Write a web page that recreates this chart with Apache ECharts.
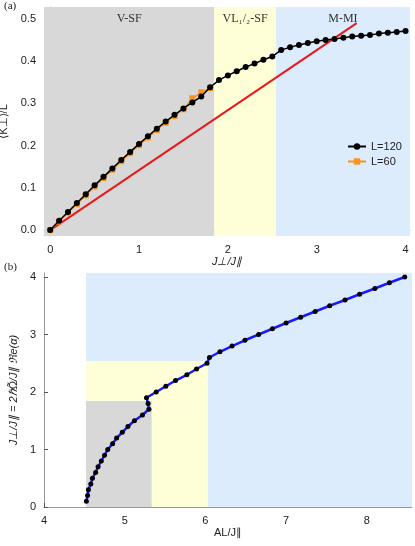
<!DOCTYPE html>
<html><head><meta charset="utf-8">
<script src="https://cdn.jsdelivr.net/npm/echarts@6/dist/echarts.min.js"></script>
<style>html,body{margin:0;padding:0;background:#fff}#c{width:415px;height:546px}</style>
</head><body><div id="c"></div>
<script>
const jx = [0,0.1,0.2,0.3,0.4,0.5,0.6,0.7,0.8,0.9,1.0,1.1,1.2,1.3,1.4,1.5,1.6,1.7,1.8,1.9,2.0,2.1,2.2,2.3,2.4,2.5,2.6,2.7,2.8,2.9,3.0,3.1,3.2,3.3,3.4,3.5,3.6,3.7,3.8,3.9,4.0];
const k120 = [0,.022,.043,.064,.085,.106,.126,.146,.166,.185,.204,.222,.240,.257,.273,.288,.302,.316,.338,.355,.366,.376,.386,.394,.403,.411,.426,.433,.438,.443,.447,.450,.452,.455,.458,.460,.462,.465,.467,.469,.471];
const k60 = [0,.020,.041,.061,.082,.103,.123,.143,.163,.182,.201,.219,.237,.254,.270,.286,.312,.326,.336];
const redLine = [[0,0],[3.45,0.49]];
const bY = [0.1,0.2,0.3,0.4,0.5,0.6,0.7,0.8,0.9,1.0,1.1,1.2,1.3,1.4,1.5,1.6,1.7,1.8,1.9,2.0,2.1,2.2,2.3,2.4,2.5,2.6,2.7,2.8,2.9,3.0,3.1,3.2,3.3,3.4,3.5,3.6,3.7,3.8,3.9,4.0];
const bX = [4.525,4.54,4.55,4.58,4.60,4.64,4.67,4.71,4.75,4.79,4.85,4.90,4.97,5.04,5.12,5.22,5.30,5.29,5.27,5.39,5.51,5.63,5.77,5.89,6.02,6.05,6.18,6.33,6.49,6.66,6.83,7.00,7.18,7.36,7.54,7.73,7.91,8.10,8.28,8.47];
const topXTicks = [0,1,2,3,4];
const topYTicks = [0,0.1,0.2,0.3,0.4,0.5];
const botXTicks = [4,5,6,7,8];
const botYTicks = [0,1,2,3,4];
const bounds = {sf:1.847, vl:2.54, bx0:4.52, bx1:5.336, bx2:6.03};

const GREY='rgba(216,216,216,1)', YEL='rgba(255,255,215,1)', BLUE='rgba(221,236,252,1)';
const axisLine={show:true,lineStyle:{color:'#999',width:1}};
const lbl={color:'#222',fontSize:11,fontFamily:'Liberation Sans'};
function vAxis(gi,min,max,ticks,fmt,extra){
  return Object.assign({type:'value',gridIndex:gi,min,max,splitLine:{show:false},axisLine,
    axisTick:{show:true,inside:true,length:4,lineStyle:{color:'#555'},customValues:ticks},
    axisLabel:Object.assign({customValues:ticks,formatter:fmt},lbl)},extra||{});
}
const chart=echarts.init(document.getElementById('c'));
chart.setOption({
  animation:false,
  grid:[{left:44,top:7,width:366,height:229,containLabel:false,outerBoundsMode:'none'},
        {left:44,top:273,width:368,height:234,containLabel:false,outerBoundsMode:'none'}],
  xAxis:[
    vAxis(0,-0.07,4.05,topXTicks,v=>String(v),{name:'J⊥/J∥',nameLocation:'middle',nameGap:20,nameTextStyle:{fontSize:11,fontStyle:'italic',color:'#222'}}),
    vAxis(1,4,8.56,botXTicks,v=>String(v),{name:'AL/J∥',nameLocation:'middle',nameGap:20,nameTextStyle:{fontSize:11,color:'#222'}})
  ],
  yAxis:[
    vAxis(0,-0.014,0.528,topYTicks,v=>v.toFixed(1),{name:'⟨K⊥⟩/L',nameLocation:'middle',nameGap:28,nameTextStyle:{fontSize:11,color:'#222'}}),
    vAxis(1,0,4.07,botYTicks,v=>String(v),{name:'J⊥/J∥ = 2ℏΩ̃/J∥ ℜe(α)',nameLocation:'middle',nameGap:22,nameTextStyle:{fontSize:11,fontStyle:'italic',color:'#222'}})
  ],
  legend:{left:342,top:136,orient:'vertical',itemWidth:18,itemHeight:8,itemGap:4,
    textStyle:{fontSize:11,color:'#222',fontFamily:'Liberation Sans'},data:['L=120','L=60']},
  graphic:[
    {type:'text',left:4,top:1,style:{text:'(a)',font:'11px Liberation Serif',fill:'#222'}},
    {type:'text',left:4,top:262,style:{text:'(b)',font:'11px Liberation Serif',fill:'#222'}}
  ],
  series:[
    {type:'line',name:'bg',xAxisIndex:0,yAxisIndex:0,data:[],silent:true,
      markArea:{silent:true,label:{position:'insideTop',distance:6,color:'#333',fontFamily:'Liberation Serif',fontSize:12},
        data:[
          [{xAxis:-0.07,yAxis:-0.014,name:'V-SF',itemStyle:{color:GREY}},{xAxis:bounds.sf,yAxis:0.528}],
          [{xAxis:bounds.sf,yAxis:-0.014,name:'VL₁/₂-SF',itemStyle:{color:YEL}},{xAxis:bounds.vl,yAxis:0.528}],
          [{xAxis:bounds.vl,yAxis:-0.014,name:'M-MI',itemStyle:{color:BLUE}},{xAxis:4.05,yAxis:0.528}]
        ]}},
    {type:'line',name:'red',xAxisIndex:0,yAxisIndex:0,data:redLine,symbol:'none',lineStyle:{color:'#e8191c',width:2},z:3},
    {type:'line',name:'L=60',xAxisIndex:0,yAxisIndex:0,data:k60.map((v,i)=>[jx[i],v]),symbol:'rect',symbolSize:6,
      itemStyle:{color:'#f7931e'},lineStyle:{color:'#f7931e',width:1.5},z:4},
    {type:'line',name:'L=120',xAxisIndex:0,yAxisIndex:0,data:k120.map((v,i)=>[jx[i],v]),symbol:'circle',symbolSize:6,
      itemStyle:{color:'#000'},lineStyle:{color:'#000',width:1.5},z:5},
    {type:'line',name:'bg2',xAxisIndex:1,yAxisIndex:1,data:[],silent:true,
      markArea:{silent:true,data:[
        [{xAxis:bounds.bx0,yAxis:0,itemStyle:{color:GREY}},{xAxis:bounds.bx1,yAxis:bounds.sf}],
        [{xAxis:bounds.bx1,yAxis:0,itemStyle:{color:YEL}},{xAxis:bounds.bx2,yAxis:bounds.sf}],
        [{xAxis:bounds.bx0,yAxis:bounds.sf,itemStyle:{color:YEL}},{xAxis:bounds.bx2,yAxis:bounds.vl}],
        [{xAxis:bounds.bx2,yAxis:0,itemStyle:{color:BLUE}},{xAxis:8.56,yAxis:bounds.vl}],
        [{xAxis:bounds.bx0,yAxis:bounds.vl,itemStyle:{color:BLUE}},{xAxis:8.56,yAxis:4.07}]
      ]}},
    {type:'line',name:'b',xAxisIndex:1,yAxisIndex:1,data:bX.map((v,i)=>[v,bY[i]]),symbol:'circle',symbolSize:5,
      itemStyle:{color:'#000'},lineStyle:{color:'#1a1aff',width:2.5},z:5}
  ]
});
</script></body></html>
